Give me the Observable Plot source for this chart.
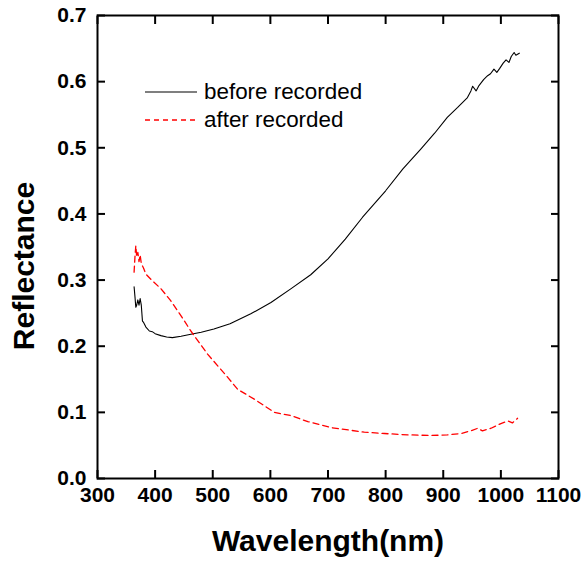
<!DOCTYPE html>
<html>
<head>
<meta charset="utf-8">
<script src="https://cdn.jsdelivr.net/npm/d3@7"></script>
<script src="https://cdn.jsdelivr.net/npm/@observablehq/plot@0.6"></script>
<style>
  html, body { margin: 0; padding: 0; background: #fff; }
  #wrap { position: relative; width: 585px; height: 561px; }
  #legend { position: absolute; left: 145px; top: 78px; font-family: "Liberation Sans", Arial, sans-serif; font-size: 22.4px; color: #000; }
  .item { display: flex; align-items: center; height: 28px; }
  .item svg { width: 52px; height: 10px; margin-right: 7px; }
</style>
</head>
<body>
<div id="wrap"><div id="legend"></div></div>
<script>
const beforeWl = [363.5,365,366.5,368,370,372,374,376,378,380,384,390,395,400,410,420,430,445,462,480,502,530,566,601,636,670,700,730,760,800,830,861,885,907,925,942,948,951,957,962,970,977,982,988,993,998,1004,1009,1014,1018,1023,1026,1032];
const beforeR  = [0.290,0.275,0.259,0.262,0.270,0.262,0.272,0.262,0.238,0.236,0.229,0.223,0.222,0.219,0.216,0.214,0.213,0.215,0.218,0.221,0.226,0.234,0.249,0.266,0.287,0.308,0.332,0.362,0.395,0.435,0.468,0.498,0.522,0.546,0.561,0.576,0.586,0.593,0.586,0.594,0.603,0.609,0.612,0.619,0.614,0.620,0.628,0.633,0.629,0.638,0.644,0.640,0.643];
const afterWl = [363.5,365,366.5,368,370,372,374,376,380,384,395,410,427,445,462,491,526,543,572,607,636,665,705,722,763,798,838,879,907,931,948,960,968,983,1000,1012,1020,1029];
const afterR  = [0.312,0.335,0.352,0.335,0.342,0.328,0.338,0.325,0.318,0.309,0.299,0.287,0.269,0.246,0.223,0.188,0.153,0.135,0.120,0.100,0.095,0.086,0.077,0.075,0.070,0.068,0.066,0.065,0.066,0.068,0.072,0.076,0.072,0.076,0.083,0.087,0.084,0.091];
const xTicks = [300,400,500,600,700,800,900,1000,1100];
const yTicks = [0.0,0.1,0.2,0.3,0.4,0.5,0.6,0.7];
const seriesNames = ["before recorded", "after recorded"];
const xTitle = "Wavelength(nm)";
const yTitle = "Reflectance";

const before = beforeWl.map((w, i) => ({w, r: beforeR[i]}));
const after = afterWl.map((w, i) => ({w, r: afterR[i]}));

const chart = Plot.plot({
  width: 585, height: 561,
  marginLeft: 97, marginRight: 27, marginTop: 15, marginBottom: 83,
  x: {domain: [300, 1100], label: null},
  y: {domain: [0, 0.7], label: null},
  style: {fontFamily: "'Liberation Sans', Arial, sans-serif", fontSize: "21px", fontWeight: "bold", background: "#fff", color: "#000"},
  marks: [
    Plot.line(before, {x: "w", y: "r", stroke: "#000", strokeWidth: 1.1}),
    Plot.line(after, {x: "w", y: "r", stroke: "#ff0000", strokeWidth: 1.3, strokeDasharray: "6,4"}),
    Plot.axisX(xTicks, {anchor: "bottom", tickSize: -8, strokeWidth: 2, tickFormat: () => "", label: null}),
    Plot.axisX(xTicks, {anchor: "top", tickSize: -8, strokeWidth: 2, tickFormat: () => "", label: null}),
    Plot.axisX(xTicks, {anchor: "bottom", tickSize: 0, tickPadding: 9, tickFormat: d3.format("d"), label: null}),
    Plot.axisY(yTicks, {anchor: "left", tickSize: -8, strokeWidth: 2, tickFormat: () => "", label: null}),
    Plot.axisY(yTicks, {anchor: "right", tickSize: -8, strokeWidth: 2, tickFormat: () => "", label: null}),
    Plot.axisY(yTicks, {anchor: "left", tickSize: 0, tickPadding: 11, tickFormat: d3.format(".1f"), label: null}),
    Plot.frame({stroke: "#000", strokeWidth: 2}),
    Plot.text([xTitle], {frameAnchor: "bottom", dy: 63, lineAnchor: "middle", fontSize: 30, fontWeight: "bold"}),
    Plot.text([yTitle], {frameAnchor: "left", dx: -73, dy: 19, rotate: -90, textAnchor: "middle", lineAnchor: "middle", fontSize: 30, fontWeight: "bold"})
  ]
});
document.getElementById("wrap").prepend(chart);

const legend = document.getElementById("legend");
const styles = [{stroke: "#000", dash: "", w: 1.1}, {stroke: "#ff0000", dash: "5,4", w: 1.3}];
seriesNames.forEach((name, i) => {
  const row = document.createElement("div");
  row.className = "item";
  row.innerHTML = `<svg viewBox="0 0 52 10"><line x1="0" y1="5" x2="52" y2="5" stroke="${styles[i].stroke}" stroke-width="${styles[i].w}" stroke-dasharray="${styles[i].dash}"/></svg><span>${name}</span>`;
  legend.appendChild(row);
});
</script>
</body>
</html>
